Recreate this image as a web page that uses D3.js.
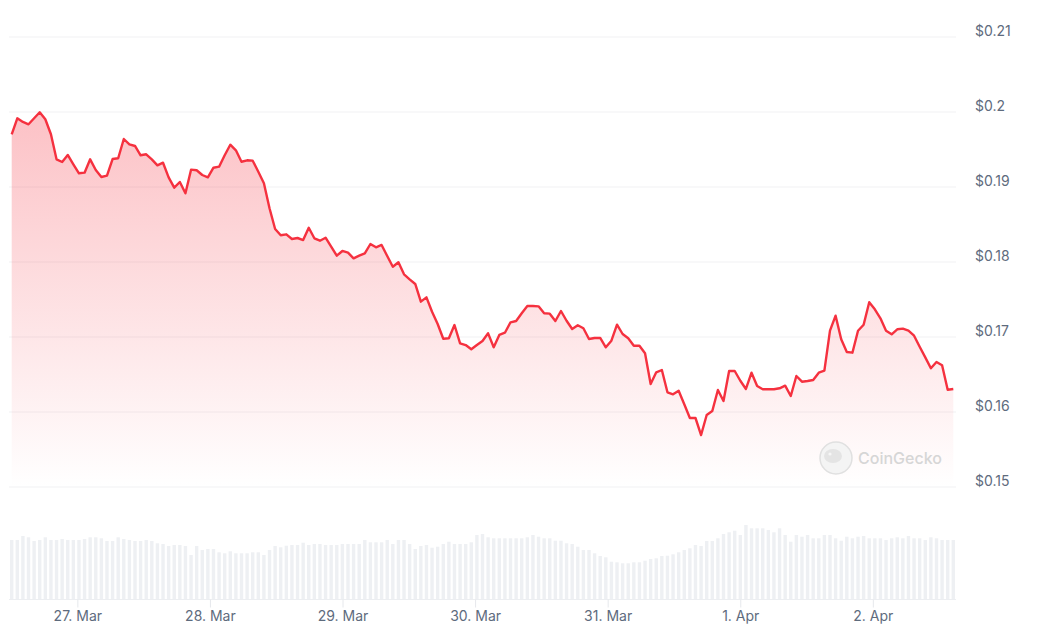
<!DOCTYPE html>
<html>
<head>
<meta charset="utf-8">
<script src="https://cdn.jsdelivr.net/npm/d3@7"></script>
<style>
    body { margin: 0; background: #fff; font-family: Inter, "Noto Sans", sans-serif; }
</style>
</head>
<body>
<div id="chart"></div>
<script>
// price readings, roughly hourly from 26 Mar to 2 Apr
const startTime = Date.UTC(2025, 2, 26, 12, 7);
const endTime = Date.UTC(2025, 3, 2, 14, 34);

const prices = [
    0.19703, 0.19916, 0.19867, 0.19836, 0.19916, 0.19996, 0.19903, 0.19703, 0.19369, 0.19333,
    0.19427, 0.19303, 0.19183, 0.19191, 0.19369, 0.19227, 0.19133, 0.19151, 0.19373, 0.19383,
    0.19640, 0.19569, 0.19547, 0.19423, 0.19436, 0.19369, 0.19289, 0.19324, 0.19129, 0.18991,
    0.19067, 0.18916, 0.19231, 0.19223, 0.19160, 0.19129, 0.19257, 0.19271, 0.19423, 0.19564,
    0.19489, 0.19337, 0.19356, 0.19351, 0.19204, 0.19049, 0.18716, 0.18440, 0.18356, 0.18369,
    0.18307, 0.18320, 0.18293, 0.18457, 0.18316, 0.18284, 0.18324, 0.18204, 0.18084, 0.18147,
    0.18124, 0.18049, 0.18084, 0.18116, 0.18240, 0.18196, 0.18227, 0.18080, 0.17937, 0.17996,
    0.17836, 0.17769, 0.17707, 0.17471, 0.17529, 0.17337, 0.17173, 0.16977, 0.16983, 0.17160,
    0.16916, 0.16893, 0.16836, 0.16893, 0.16947, 0.17049, 0.16863, 0.17027, 0.17057, 0.17196,
    0.17213, 0.17316, 0.17413, 0.17413, 0.17409, 0.17316, 0.17311, 0.17213, 0.17347, 0.17217,
    0.17107, 0.17156, 0.17116, 0.16973, 0.16987, 0.16987, 0.16863, 0.16951, 0.17164, 0.17040,
    0.16983, 0.16884, 0.16884, 0.16783, 0.16373, 0.16529, 0.16560, 0.16263, 0.16236, 0.16284,
    0.16103, 0.15920, 0.15920, 0.15693, 0.15960, 0.16013, 0.16293, 0.16147, 0.16547, 0.16547,
    0.16417, 0.16307, 0.16524, 0.16347, 0.16303, 0.16303, 0.16303, 0.16316, 0.16351, 0.16213,
    0.16480, 0.16404, 0.16413, 0.16427, 0.16524, 0.16551, 0.17084, 0.17284, 0.16969, 0.16800,
    0.16791, 0.17084, 0.17164, 0.17463, 0.17369, 0.17249, 0.17084, 0.17036, 0.17103, 0.17111,
    0.17084, 0.17017, 0.16871, 0.16729, 0.16583, 0.16667, 0.16623, 0.16297, 0.16307
];

// volume (estimated, relative units)
const volumes = [
    59, 59, 63, 61.7, 58, 59, 61.7, 59, 59, 60,
    59, 59, 59, 60, 61.7, 61.7, 60.7, 58, 58, 61.7,
    60, 59, 58, 58, 59, 58, 55.7, 55, 53, 54,
    54, 53, 44, 53, 49, 50, 50, 46.7, 45.7, 47.7,
    45.7, 45.7, 45.7, 46.7, 46.7, 44, 49, 53, 51.7, 53.3,
    54, 54, 56.3, 54, 55, 55, 54, 54, 54, 55,
    55, 55, 55, 59, 56.7, 56.7, 56.7, 59, 55, 59,
    59, 55, 50, 53, 54, 51.3, 52.3, 55, 57.3, 55,
    55, 55, 56.7, 64, 65, 61.7, 60.7, 60.7, 60.7, 60.7,
    60.7, 60.7, 61.7, 64, 62.3, 60.7, 60.7, 58.3, 58.3, 55.7,
    55, 52.3, 49, 49, 45.7, 43, 41.7, 37.3, 36.7, 35.7,
    35.7, 36.7, 36.7, 38.3, 40, 40.7, 43, 43.3, 44.7, 46.7,
    49, 50.7, 54, 53, 58, 58, 60.7, 65, 66.7, 68.3,
    64, 74, 70.7, 70.7, 70.7, 69, 66.7, 70.7, 64, 57.3,
    64, 62.3, 64, 60.7, 60.7, 64, 64, 60.7, 58.3, 62.3,
    60.7, 62.3, 63, 60.7, 60.7, 60.7, 59, 60.7, 61.7, 60.7,
    63, 60.7, 60.7, 59, 61.7, 60.7, 59, 59, 59
];

const priceTicks = [0.15, 0.16, 0.17, 0.18, 0.19, 0.2, 0.21];

const width = 1038, height = 625;
const left = 11.7, right = 953.3;

const step = (endTime - startTime) / (prices.length - 1);
const data = prices.map((p, i) => ({
    time: new Date(startTime + i * step),
    price: p,
    volume: volumes[i]
}));

const svg = d3.select("#chart").append("svg")
    .attr("width", width)
    .attr("height", height);

const x = d3.scaleUtc().domain([new Date(startTime), new Date(endTime)]).range([left, right]);
const y = d3.scaleLinear().domain([0.15, 0.21]).range([487, 37]);
const yVol = d3.scaleLinear().domain([0, 80]).range([599, 519]);

// gradient for the area
const grad = svg.append("defs").append("linearGradient")
    .attr("id", "areaFill")
    .attr("gradientUnits", "userSpaceOnUse")
    .attr("x1", 0).attr("y1", y(0.2)).attr("x2", 0).attr("y2", y(0.15));
grad.append("stop").attr("offset", "0%").attr("stop-color", "#f5313f").attr("stop-opacity", 0.3);
grad.append("stop").attr("offset", "100%").attr("stop-color", "#f5313f").attr("stop-opacity", 0.0);

// grid
svg.append("g")
    .selectAll("line")
    .data(priceTicks)
    .join("line")
    .attr("x1", 9).attr("x2", 956)
    .attr("y1", d => y(d)).attr("y2", d => y(d))
    .attr("stroke", "#f1f1f3")
    .attr("stroke-width", 1);

// y labels
svg.append("g")
    .selectAll("text")
    .data(priceTicks)
    .join("text")
    .attr("x", 975)
    .attr("y", d => y(d) - 1)
    .attr("fill", "#5e6b7d")
    .attr("font-size", 14)
    .text(d => "$" + d3.format("~g")(d));

// volume bars
svg.append("g")
    .selectAll("rect")
    .data(data)
    .join("rect")
    .attr("x", d => x(d.time) - 1.7)
    .attr("width", 3.4)
    .attr("y", d => yVol(d.volume))
    .attr("height", d => yVol(0) - yVol(d.volume))
    .attr("fill", "#eef0f3");

// volume baseline and day ticks
svg.append("line")
    .attr("x1", 9).attr("x2", 956)
    .attr("y1", 599.5).attr("y2", 599.5)
    .attr("stroke", "#eceef1");

const xAxis = svg.append("g")
    .attr("transform", "translate(0,599.5)")
    .call(d3.axisBottom(x)
        .ticks(d3.utcDay.every(1))
        .tickSize(8)
        .tickPadding(4)
        .tickFormat(d3.utcFormat("%-d. %b")));
xAxis.select(".domain").remove();
xAxis.selectAll(".tick line").attr("stroke", "#e6e8ec");
xAxis.selectAll(".tick text")
    .attr("fill", "#5e6b7d")
    .attr("font-size", 14)
    .attr("font-family", "Inter, 'Noto Sans', sans-serif");

// area + line
const area = d3.area()
    .x(d => x(d.time))
    .y0(y(0.15))
    .y1(d => y(d.price));
svg.append("path")
    .datum(data)
    .attr("d", area)
    .attr("fill", "url(#areaFill)");

const line = d3.line()
    .x(d => x(d.time))
    .y(d => y(d.price));
svg.append("path")
    .datum(data)
    .attr("d", line)
    .attr("fill", "none")
    .attr("stroke", "#f5313f")
    .attr("stroke-width", 2.4)
    .attr("stroke-linejoin", "round");

// watermark
const wm = svg.append("g");
wm.append("circle")
    .attr("cx", 836).attr("cy", 458).attr("r", 16)
    .attr("fill", "#f4f4f4")
    .attr("stroke", "#e0e0e0")
    .attr("stroke-width", 1.5);
wm.append("ellipse")
    .attr("cx", 833).attr("cy", 456).attr("rx", 9).attr("ry", 7)
    .attr("fill", "#e4e4e4");
wm.append("circle")
    .attr("cx", 830).attr("cy", 454).attr("r", 1.6)
    .attr("fill", "#f6f6f6");
wm.append("text")
    .attr("x", 858).attr("y", 464)
    .attr("fill", "#d6d6d6")
    .attr("font-size", 16)
    .attr("font-weight", 500)
    .text("CoinGecko");
</script>
</body>
</html>
